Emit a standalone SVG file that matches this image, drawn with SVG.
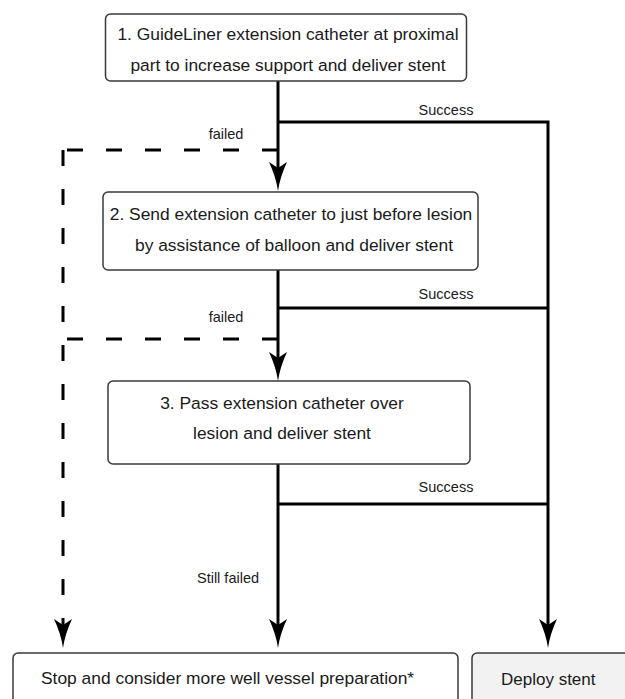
<svg xmlns="http://www.w3.org/2000/svg" width="625" height="699" viewBox="0 0 625 699">
<style>
.box{fill:#ffffff;stroke:#3a3a3a;stroke-width:1.5}
.gray{fill:#f2f2f2}
.t{font-family:"Liberation Sans",Arial,sans-serif;font-size:17.4px;fill:#1a1a1a}
.lbl{font-family:"Liberation Sans",Arial,sans-serif;font-size:14.5px;fill:#1a1a1a;text-anchor:middle}
.c{text-anchor:middle}
.ln{fill:none;stroke:#000;stroke-width:3}
.dash{fill:none;stroke:#000;stroke-width:3;stroke-dasharray:16 23}
</style>
<defs>
<marker id="arr" markerUnits="userSpaceOnUse" viewBox="0 0 30 20" refX="10" refY="10" markerWidth="30" markerHeight="20" orient="auto">
<path d="M30,10 Q16,12 1,19 L7,10 L1,1 Q16,8 30,10 Z" fill="#000"/>
</marker>
</defs>
<g id="connectors">
<path class="ln" d="M278,81 V171" marker-end="url(#arr)"/>
<path class="ln" d="M278,122 H548 V628" marker-end="url(#arr)"/>
<path class="ln" d="M278,270 V361" marker-end="url(#arr)"/>
<path class="ln" d="M278,308 H548"/>
<path class="ln" d="M278,464 V628" marker-end="url(#arr)"/>
<path class="ln" d="M278,504 H548"/>
<path class="dash" d="M278,150 H63"/>
<path class="dash" d="M63,150 V628" marker-end="url(#arr)"/>
<path class="dash" d="M278,339 H63"/>
<text class="lbl" x="446" y="115">Success</text>
<text class="lbl" x="226" y="139">failed</text>
<text class="lbl" x="446" y="299">Success</text>
<text class="lbl" x="226" y="322">failed</text>
<text class="lbl" x="446" y="492">Success</text>
<text class="lbl" x="228" y="583">Still failed</text>
</g>
<g id="node1">
<rect class="box" x="105.5" y="14" width="361" height="67" rx="5"/>
<text class="t c" x="288" y="40">1. GuideLiner extension catheter at proximal</text>
<text class="t c" x="288" y="71">part to increase support and deliver stent</text>
</g>
<g id="node2">
<rect class="box" x="103" y="192" width="375" height="78" rx="5"/>
<text class="t c" x="291" y="220">2. Send extension catheter to just before lesion</text>
<text class="t c" x="294" y="251">by assistance of balloon and deliver stent</text>
</g>
<g id="node3">
<rect class="box" x="108" y="381" width="362" height="83" rx="5"/>
<text class="t c" x="282" y="409">3. Pass extension catheter over</text>
<text class="t c" x="282" y="439">lesion and deliver stent</text>
</g>
<g id="node4">
<rect class="box" x="13" y="653" width="445" height="70" rx="5"/>
<text class="t" x="41" y="684">Stop and consider more well vessel preparation*</text>
</g>
<g id="node5">
<rect class="box gray" x="472" y="653" width="170" height="70" rx="5"/>
<text class="t" x="501" y="685" style="font-size:17px">Deploy stent</text>
</g>
</svg>
